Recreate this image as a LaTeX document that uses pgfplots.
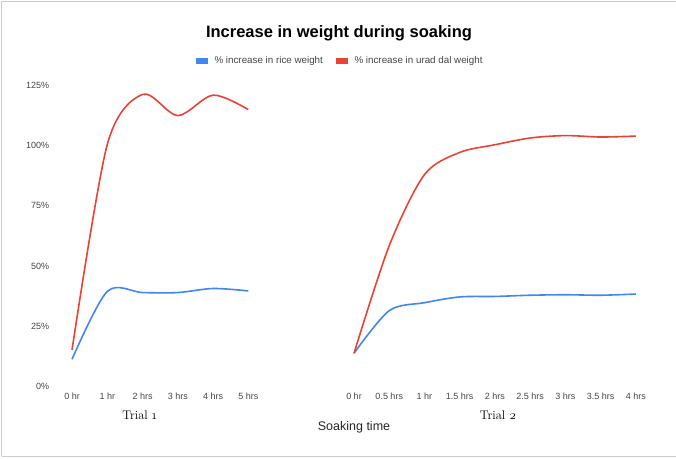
\documentclass[border=0pt]{standalone}
\usepackage{pgfplots}
\pgfplotsset{compat=1.18}
\usepackage{fontspec}
\setmainfont{Liberation Sans}
\newfontfamily\trialfont{Latin Modern Roman}[Numbers=OldStyle]
\definecolor{gblue}{HTML}{4285F4}
\definecolor{gred}{HTML}{EA4335}
\definecolor{ticktext}{HTML}{444444}
\definecolor{framegray}{HTML}{CCCCCC}
\begin{document}
\begin{tikzpicture}
\useasboundingbox (0,0) rectangle (676pt,458pt);
\draw[framegray, line width=1pt] (1.5pt,2pt) -- (1.5pt,456.5pt) -- (676pt,456.5pt);
\draw[framegray, line width=1pt] (1.5pt,2pt) -- (676pt,2pt);
\begin{axis}[
  at={(54.4pt,71.5pt)}, anchor=south west,
  scale only axis, width=599.2pt, height=301pt,
  xmin=-0.5, xmax=16.5, ymin=0, ymax=125,
  axis line style={draw=none}, major tick length=0pt, tick style={draw=none},
  xtick={0,1,2,3,4,5,8,9,10,11,12,13,14,15,16},
  xticklabels={0 hr,1 hr,2 hrs,3 hrs,4 hrs,5 hrs,0 hr,0.5 hrs,1 hr,1.5 hrs,2 hrs,2.5 hrs,3 hrs,3.5 hrs,4 hrs},
  ytick={0,25,50,75,100,125},
  yticklabels={0\%,25\%,50\%,75\%,100\%,125\%},
  ticklabel style={font=\fontsize{9}{10}\selectfont, text=ticktext},
  yticklabel style={inner sep=0pt, anchor=east, xshift=-5pt},
  xticklabel style={inner sep=0pt, anchor=north, yshift=-6pt},
  clip=false,
  legend columns=2,
  legend style={at={(0.4758,1.0814)}, anchor=center, draw=none, fill=none, inner sep=0pt,
    font=\fontsize{9.8}{11}\selectfont, text=ticktext, nodes={inner sep=0pt},
    /tikz/every odd column/.append style={column sep=6.5pt},
    /tikz/every even column/.append style={column sep=13.5pt}},
  legend image code/.code={\fill (0pt,-1.8pt) rectangle (10pt,1.8pt);},
]
\addplot[gblue, line width=1.6pt, smooth] coordinates {
(0,11.3) (1,39.5) (2,39.0) (3,39.0) (4,40.7) (5,39.7)};
\addlegendentry{\% increase in rice weight}
\addplot[gred, line width=1.6pt, smooth] coordinates {
(0,15.2) (1,100.5) (2,121.3) (3,112.5) (4,121.0) (5,115.0)};
\addlegendentry{\% increase in urad dal weight}
\addplot[gblue, line width=1.6pt, smooth, forget plot] coordinates {
(8,13.8) (9,31.5) (10,34.8) (11,37.2) (12,37.4) (13,37.9) (14,38.1) (15,37.9) (16,38.4)};
\addplot[gred, line width=1.6pt, smooth, forget plot] coordinates {
(8,13.8) (9,58.5) (10,88.0) (11,97.2) (12,100.4) (13,103.2) (14,104.2) (15,103.6) (16,104.0)};
\end{axis}
\node[font=\bfseries\fontsize{16.5}{19}\selectfont] at (339pt,425pt) {Increase in weight during soaking};
\node[font=\trialfont\fontsize{12.5}{14}\selectfont] at (139.5pt,43pt) {Trial 1};
\node[font=\trialfont\fontsize{12.5}{14}\selectfont] at (498pt,43pt) {Trial 2};
\node[font=\fontsize{12.5}{14}\selectfont, text=black!85] at (354pt,30.5pt) {Soaking time};
\end{tikzpicture}
\end{document}
